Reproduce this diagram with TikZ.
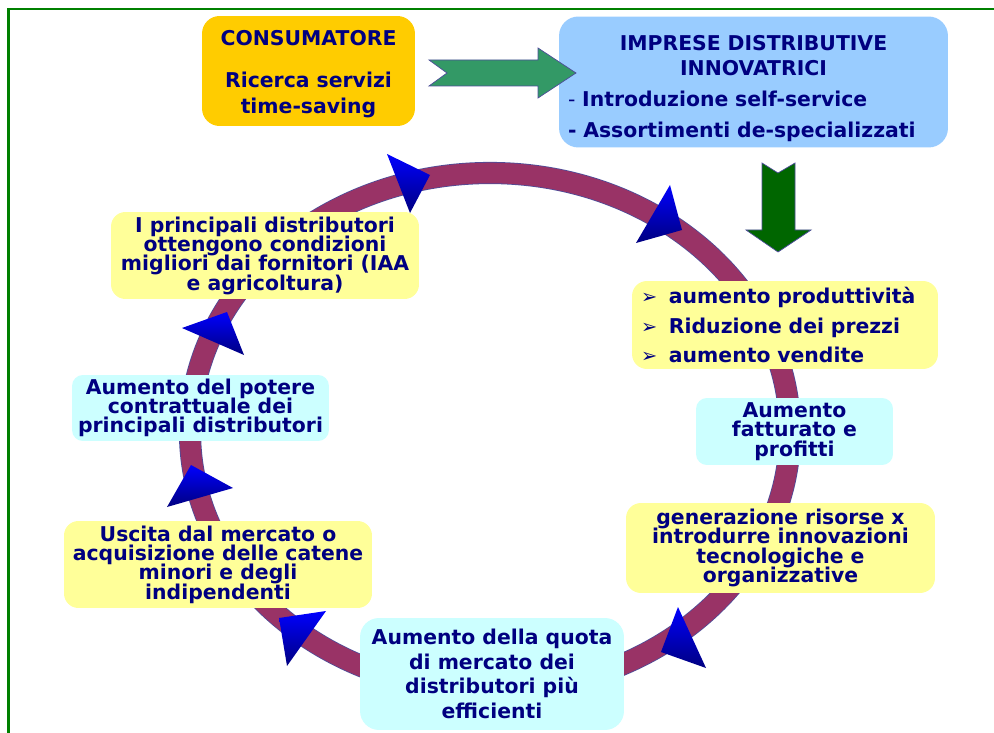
\documentclass[tikz,border=0pt]{standalone}
\usepackage{fontspec}
\setmainfont{DejaVu Sans}
\usetikzlibrary{positioning}

\definecolor{navytext}{HTML}{000080}
\definecolor{consumer}{HTML}{FFCC00}
\definecolor{firms}{HTML}{99CCFF}
\definecolor{paleyellow}{HTML}{FFFF99}
\definecolor{palecyan}{HTML}{CCFFFF}
\definecolor{plum}{HTML}{993366}
\definecolor{edgeblue}{HTML}{4D4D99}
\definecolor{seagreen}{HTML}{339966}
\definecolor{darkgreen}{HTML}{006600}

\newcommand\tightfont{\fontsize{11.6}{11}\selectfont\lineskiplimit=-20pt\bfseries}
\newcommand\quotafont{\fontsize{11.6}{14}\selectfont\lineskiplimit=-20pt\bfseries}
\newcommand\headfont{\fontsize{11.6}{14.7}\selectfont\bfseries}
\newcommand\widefont{\fontsize{11.6}{17.5}\selectfont\bfseries}
\newcommand\listfont{\fontsize{11.6}{16.7}\selectfont\bfseries}
\newcommand\blt{\makebox[15.9pt][l]{\mdseries\fontsize{11}{11}\selectfont ➢}}

\begin{document}
\begin{tikzpicture}[x=0.02cm, y=-0.02cm,
    box/.style={rounded corners=#1, inner sep=0pt, align=center, text=navytext, font=\tightfont},
    tri/.style={top color=blue, bottom color=navytext},
    blockarrow/.style={draw=edgeblue, line width=0.4pt}]
\useasboundingbox (0,0) rectangle (994,733);
%
    % frame
    \draw[green!50!black, line width=1.7pt] (8.5,733) -- (8.5,9);
    \draw[green!50!black, line width=1.1pt] (7,9) -- (994,9);
%
    % the cycle ring
    \draw[edgeblue, line width=12.6pt] (490,432) ellipse [x radius=300, y radius=259];
    \draw[plum, line width=11.7pt] (490,432) ellipse [x radius=300, y radius=259];
%
    \foreach \ax/\ay/\bx/\by/\cx/\cy in {387/154/430/175/410/213, 670/185/682/230/636/243,
        182/328/227/312/244/355, 191/465/233/488/167/507,
        279/618/326/611/287/666, 678/607/661/652/706/668}
      \shade[tri] (\ax,\ay) -- (\bx,\by) -- (\cx,\cy) -- cycle;
%
    \node[box=10pt, fill=consumer, minimum width=4.26cm, minimum height=2.2cm, font=\headfont]
      (consumer) at (308.5,71) {\rule{0pt}{12.2pt}CONSUMATORE\\[9pt]Ricerca servizi\\time-saving};
    \node[box=11pt, fill=firms, minimum width=7.78cm, minimum height=2.62cm,
      text width=7.42cm, align=left, font=\widefont] (firms) at (753.5,82)
      {\centering\rule{0pt}{15.6pt}IMPRESE DISTRIBUTIVE\\[-2.9pt]INNOVATRICI\par
       \raggedright{\mdseries -} Introduzione self-service\\- Assortimenti de-specializzati};
%
    \draw[blockarrow, fill=seagreen] (429,60) -- (538,60) -- (538,48) -- (576,73)
      -- (538,98) -- (538,86) -- (429,86) -- (447,73) -- cycle;
    \draw[blockarrow, fill=darkgreen] (762,163) -- (778,173) -- (795,163) -- (795,230)
      -- (811,230) -- (778,252) -- (746,230) -- (762,230) -- cycle;
%
    \node[box=8.5pt, fill=paleyellow, minimum width=6.12cm, minimum height=1.76cm,
      text width=5.76cm, align=left, font=\listfont] (gains) at (785,325)
      {\blt aumento produttività\\\blt Riduzione dei prezzi\\\blt aumento vendite};
    \node[box=6.2pt, fill=palecyan, minimum width=3.94cm, minimum height=1.34cm]
      (turnover) at (794.5,431.5) {Aumento\\fatturato e\\profitti};
    \node[box=8.5pt, fill=paleyellow, minimum width=6.18cm, minimum height=1.8cm]
      (resources) at (780.5,548) {generazione risorse x\\introdurre innovazioni\\tecnologiche e\\organizzative};
    \node[box=10.8pt, fill=palecyan, minimum width=5.28cm, minimum height=2.24cm, font=\quotafont]
      (share) at (492,674) {Aumento della quota\\di mercato dei\\distributori più\\efficienti};
    \node[box=8.2pt, fill=paleyellow, minimum width=6.16cm, minimum height=1.74cm]
      (exit) at (218,564.5) {Uscita dal mercato o\\acquisizione delle catene\\minori e degli\\indipendenti};
    \node[box=6.2pt, fill=palecyan, minimum width=5.14cm, minimum height=1.32cm]
      (power) at (200.5,408) {Aumento del potere\\contrattuale dei\\principali distributori};
    \node[box=8.2pt, fill=paleyellow, minimum width=6.16cm, minimum height=1.74cm]
      (suppliers) at (265,255.5) {I principali distributori\\ottengono condizioni\\migliori dai fornitori (IAA\\e agricoltura)};
\end{tikzpicture}
\end{document}
